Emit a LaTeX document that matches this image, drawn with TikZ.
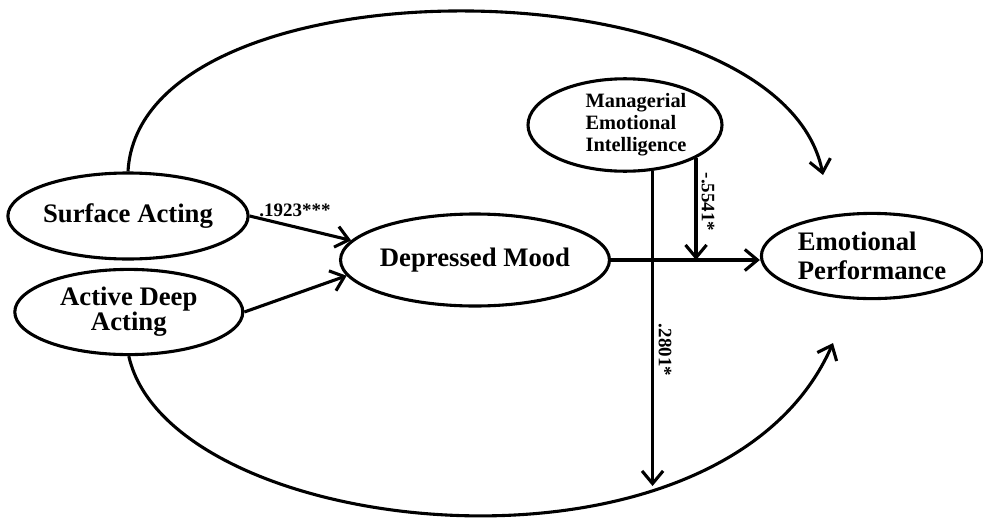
\documentclass[tikz,border=0pt]{standalone}
\usepackage{fontspec}
\setmainfont{Liberation Serif}
\usetikzlibrary{shapes.geometric,arrows.meta}

\begin{document}
\begin{tikzpicture}[
    construct/.style={ellipse, draw, line width=2.2pt, inner sep=0pt, align=center,
      font=\fontsize{19}{21}\selectfont\bfseries},
    arr/.style={-{Straight Barb[length=9pt,width=15pt]}, line width=2.2pt},
    coef/.style={font=\fontsize{13.5}{15}\selectfont\bfseries, inner sep=1pt}]
    \useasboundingbox (0,0) rectangle (24.575,13.15);
    % Constructs
    \node[construct, minimum width=5.78cm, minimum height=2.15cm] (sa) at (3.2,7.75) {Surface Acting};
    \node[construct, minimum width=5.7cm, minimum height=2.13cm,
      font=\fontsize{19}{18}\selectfont\bfseries] (ad) at (3.22,5.35) {Active Deep\\Acting};
    \node[construct, minimum width=5.85cm, minimum height=2.3cm] (dm) at (11.875,6.65) {Depressed Mood};
    \node[construct, minimum width=4.85cm, minimum height=2.2cm,
      font=\fontsize{14.5}{15.5}\selectfont\bfseries] (mei) at (15.625,10.025)
      {\hspace*{0.55cm}\begin{tabular}{@{}l@{}}Managerial\\Emotional\\Intelligence\end{tabular}};
    \node[construct, minimum width=5.53cm, minimum height=2.13cm, align=left] (ep) at (21.8,6.75) {Emotional\\Performance};
    % Free ends
    \coordinate (topend) at (20.575,8.775);
    \coordinate (botend) at (20.825,4.575);
    \coordinate (mbot) at (16.25,1.0);
    % Paths
    \draw[arr] (sa.east) -- (dm.171);
    \draw[arr] (ad.east) -- (dm.187);
    \draw[arr] (dm.east) -- (dm.east -| ep.west);
    \draw[arr] (mei.-59.5) -- (mei.-59.5 |- mbot);
    \draw[arr] (mei.-25) -- (mei.-25 |- dm.east);
    \draw[arr] (sa.north) .. controls (3.5,14.275) and (19.5,14.15) .. (topend);
    \draw[arr] (ad.south) .. controls (4.25,-0.35) and (18,-1.85) .. (botend);
    % Coefficients
    \node[coef] (c1) at (7.375,7.9) {.1923***};
    \node[coef, rotate=-90] (c2) at (17.7,8.1) {-.5541*};
    \node[coef, rotate=-90] (c3) at (16.625,4.4) {.2801*};
\end{tikzpicture}
\end{document}
